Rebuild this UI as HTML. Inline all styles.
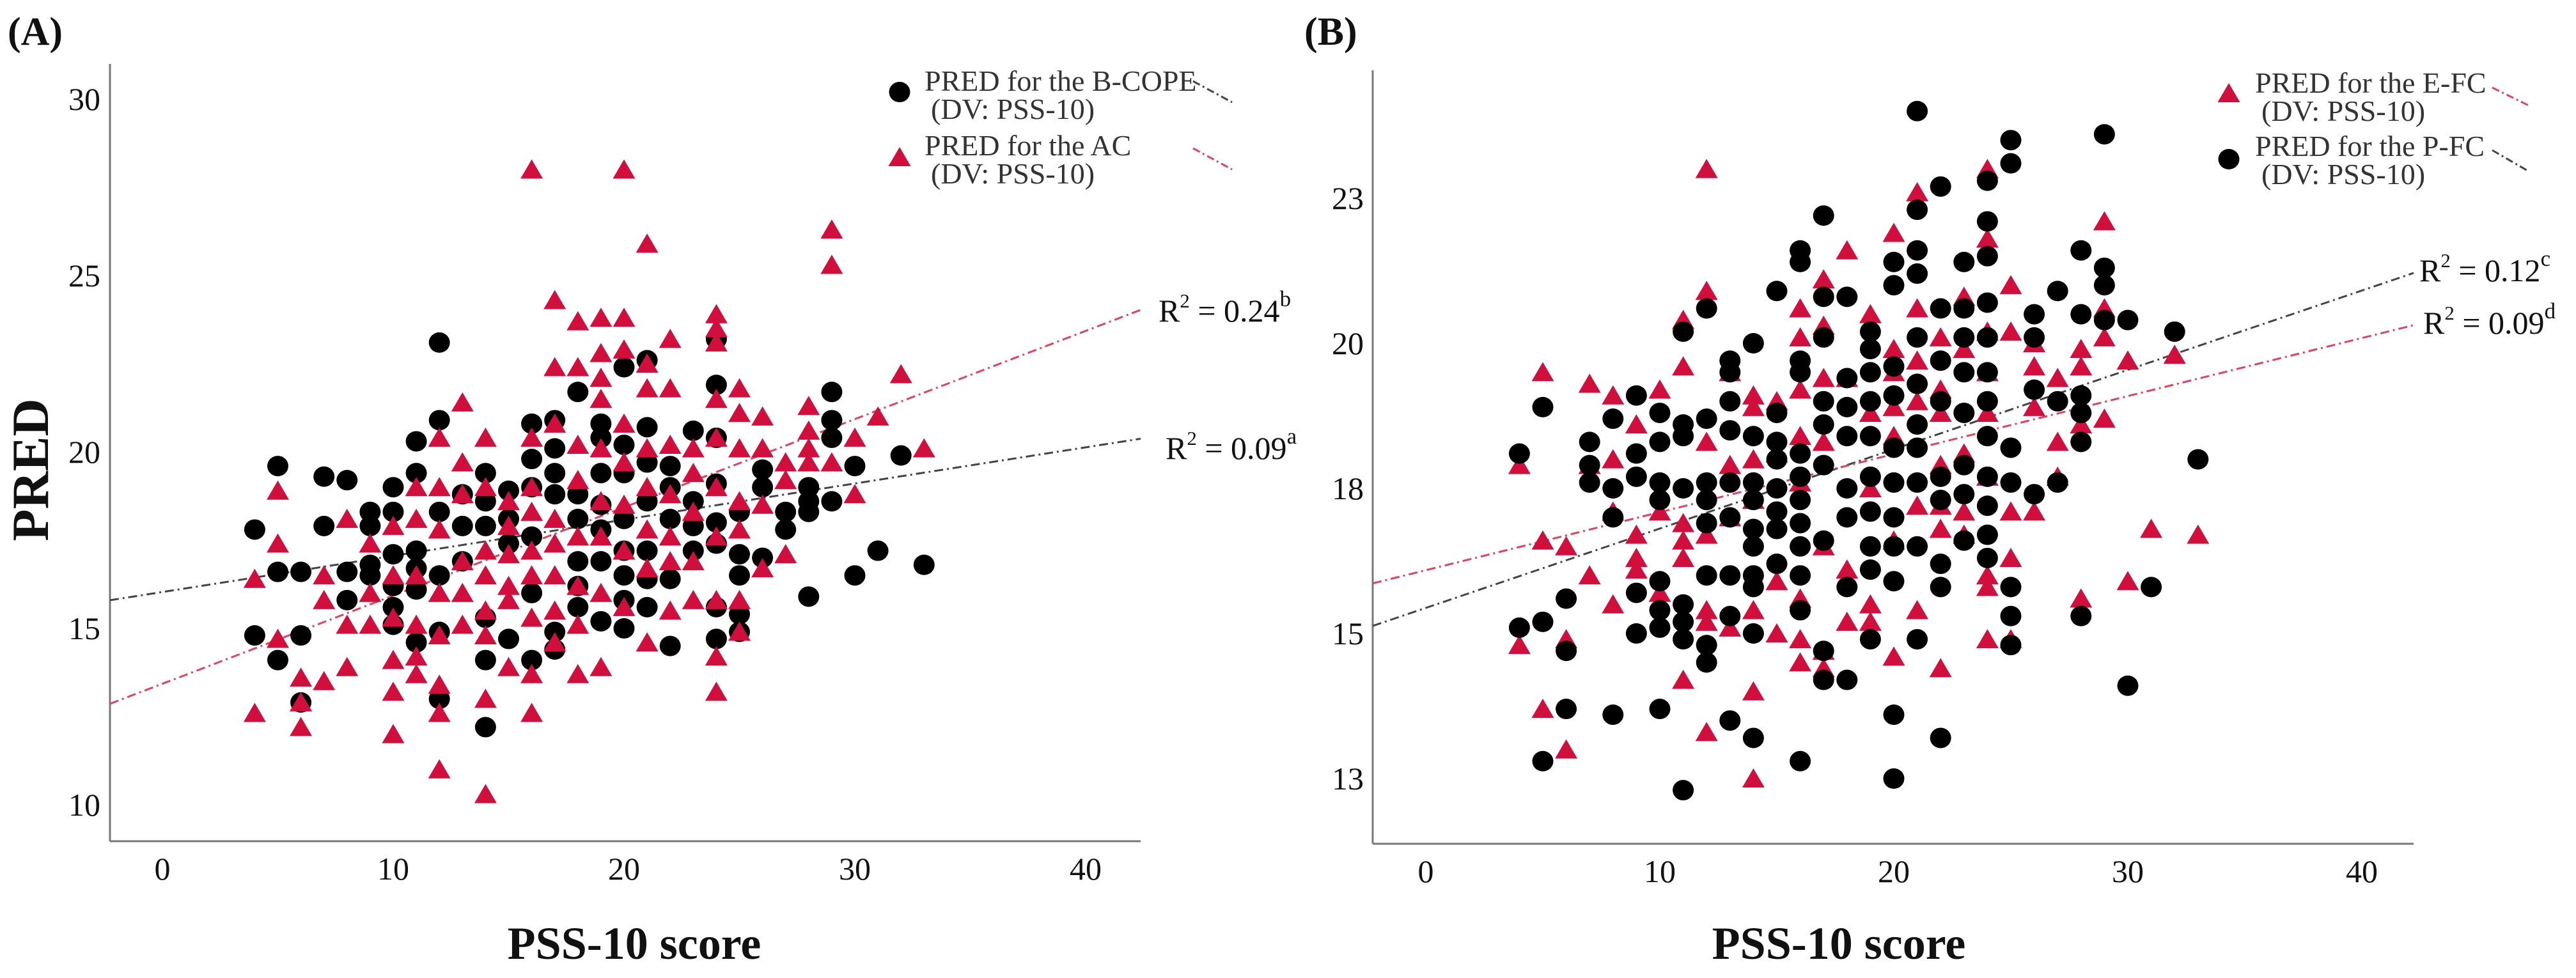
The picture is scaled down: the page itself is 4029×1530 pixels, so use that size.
<!DOCTYPE html>
<html><head><meta charset="utf-8">
<style>
html,body{margin:0;padding:0;background:#fff;}
svg{display:block;font-family:"Liberation Serif",serif;}
</style></head>
<body>
<svg id="chart" width="4029" height="1530" viewBox="0 0 4029 1530" xmlns="http://www.w3.org/2000/svg">
<g id="panelA"></g>
<g id="panelB"></g>
</svg>
<script>
// ---------- Panel A data ----------
const aXs = [4,5,6,7,8,9,10,11,12,13,14,15,16,17,18,19,20,21,22,23,24,25,26,27,28,29,30,31,32,33];
const aBlackYs = [
[17.8,14.8],[19.6,16.6,14.1],[16.6,14.8,12.9],[19.3,17.9],[19.2,16.6,15.8],[18.3,17.9,16.8,16.5],
[19.0,18.3,17.1,16.2,15.6,15.1],[20.3,19.4,17.2,16.7,16.1,14.6],[23.1,20.9,18.3,16.5,14.9,13.0],
[18.8,17.9,16.9],[19.4,18.6,17.9,15.3,14.1,12.2],[18.9,18.1,17.4,14.7],[20.8,19.8,19.0,17.6,16.0,14.1],
[20.9,20.1,19.4,18.8,14.9,14.4],[21.7,18.8,18.1,16.9,16.2,15.6],[20.8,20.4,19.4,18.5,17.8,16.9,15.2],
[22.4,20.2,19.4,18.1,17.2,16.5,15.8,15.0],[22.6,20.7,19.7,18.6,17.2,16.4,15.6],[19.6,19.0,18.1,16.4,14.5],
[20.6,18.6,17.9,17.2],[23.2,21.9,20.4,19.1,18.0,17.4,15.6,14.7],[18.3,17.1,16.5,15.4,14.9],[19.5,19.0,17.0],
[18.3,17.8],[19.0,18.6,18.3,15.9],[21.7,20.9,20.4,18.6],[19.6,16.5],[17.2],[19.9],[16.8]];
const aRedYs = [
[16.4,12.6],[18.9,17.4,14.7],[13.6,12.9,12.2],[16.5,15.8,13.5],[18.1,15.1,13.9],[17.4,16.0,15.1],
[17.9,16.5,15.3,14.1,13.2,12.0],[19.0,18.1,16.5,15.1,14.2,13.7],[20.4,19.0,17.8,16.0,14.8,13.4,12.6,11.0],
[21.4,19.7,18.8,16.9,16.0,15.1],[20.4,19.0,17.2,16.5,15.5,14.8,13.0,10.3],[18.6,17.9,17.1,16.2,15.8,13.9],
[28.0,20.4,19.0,18.3,17.2,16.5,15.3,13.7,12.6],[24.3,22.4,20.8,18.1,17.4,16.5,15.5,14.6],
[23.7,22.4,20.2,19.2,17.6,16.2,15.1,13.7],[23.8,22.8,22.1,21.5,20.1,18.6,17.6,16.0,13.9],
[28.0,23.8,22.9,20.8,19.7,18.5,17.2,15.6],[25.9,22.5,21.8,20.1,19.0,17.8,16.7,14.6],
[23.2,21.8,20.2,18.8,17.6,16.9,15.5],[20.1,19.4,18.3,16.9,15.8],
[23.9,23.5,23.1,21.5,20.4,19.0,17.6,15.8,14.2,13.2],[21.8,21.1,20.1,18.6,17.8,15.8,14.9],
[21.0,20.1,18.5,16.7],[19.7,19.2,17.1],[21.3,20.6,20.1,19.7],[26.3,25.3,19.7],[20.4,18.8],[21.0],[22.2],[20.1]];
const aXTicks = [0,10,20,30,40];
const aYTicks = [10,15,20,25,30];
const aYTickLabels = ["10","15","20","25","30"];
const aRedFit = [13.43,0.25];   // intercept, slope
const aBlackFit = [16.03,0.1025];

// ---------- Panel B data ----------
const bXs = aXs;
const bBlackYs = [
[18.1,15.1],[18.9,15.2,12.8],[15.6,14.7,13.7],[18.3,17.9,17.6],[18.7,17.5,17.0,13.6],[19.1,18.1,17.7,15.7,15.0],
[18.8,18.3,17.6,17.3,15.9,15.4,15.1,13.7],[20.2,18.6,18.4,17.5,15.5,15.2,14.9,12.3],
[20.6,18.7,17.6,17.3,16.9,16.0,14.8,14.5],[19.7,19.5,19.0,18.5,17.6,17.0,16.0,15.3,13.5],
[20.0,18.4,17.6,17.3,16.8,16.5,16.0,15.8,15.0,13.2],[20.9,18.8,18.3,18.0,17.5,17.1,16.8,16.2],
[21.6,21.4,19.7,19.5,18.1,17.7,17.3,16.9,16.5,16.0,15.4,12.8],[22.2,20.8,20.1,19.0,18.6,17.9,16.6,14.7,14.2],
[20.8,19.4,18.9,18.4,17.5,17.0,15.8,14.2],[20.2,19.9,19.5,19.0,18.4,17.7,17.1,16.5,16.1,14.9],
[21.4,21.0,19.6,19.1,18.2,17.6,17.0,16.5,15.9,13.6,12.5],[24.0,22.3,21.6,21.2,20.1,19.3,18.6,18.2,17.6,16.5,14.9],
[22.7,20.6,19.7,19.0,17.7,17.3,16.2,15.8,13.2],[21.4,20.6,20.1,19.5,18.8,17.9,17.4,16.6],
[22.8,22.1,21.5,20.7,20.1,19.5,19.0,18.4,17.7,17.2,16.7,16.3],[23.5,23.1,18.2,17.6,15.8,15.3,14.8],
[20.5,20.1,19.2,17.4],[20.9,19.0,17.6],[21.6,20.5,19.1,18.8,18.3,15.3],[23.6,21.3,21.0,20.4],[20.4,14.1],[15.8],[20.2],[18.0]];
const bRedYs = [
[17.9,14.8],[19.5,16.6,13.7],[16.5,14.9,13.0],[19.3,17.9,16.0],[19.1,18.0,17.1,15.5],[18.6,16.7,16.3,16.1],
[19.2,17.1,15.7],[20.4,19.6,16.9,16.6,16.3,14.2],[23.0,20.9,18.3,16.7,15.4,15.2,13.3],[19.5,17.9,17.0,15.1],
[19.1,18.9,18.0,17.3,15.4,14.0,12.5],[19.0,18.1,15.9,15.0],[20.6,20.1,19.2,18.4,17.6,15.6,14.9,14.5],
[21.1,20.3,19.4,18.3,16.5,14.7,14.4],[21.6,19.4,16.1,15.2],[20.5,18.8,17.5,15.5,15.2],
[21.9,19.9,19.5,18.9,18.4,16.6,14.6],[22.6,20.6,19.7,19.0,17.2,15.4],[20.1,19.2,18.8,17.9,17.2,16.8,14.4],
[20.8,19.9,18.1,17.1,16.7],[23.0,21.8,20.2,19.5,18.8,17.7,16.0,15.8,14.9],[21.0,20.2,17.1,16.3,14.9],
[20.0,19.6,18.9,17.1],[19.4,18.3,17.7],[19.9,19.6,18.6,15.6],[22.1,20.6,20.1,18.7],[19.7,15.9],[16.8],[19.8],[16.7]];
const bXTicks = [0,10,20,30,40];
const bYTicks = [12.5,15,17.5,20,22.5];
const bYTickLabels = ["13","15","18","20","23"];
const bRedFit = [16.09,0.100];
const bBlackFit = [15.44,0.1367];

const NS = "http://www.w3.org/2000/svg";
function mk(parent, tag, attrs, text){
  const e = document.createElementNS(NS, tag);
  for (const k in attrs) e.setAttribute(k, attrs[k]);
  if (text !== undefined) e.textContent = text;
  parent.appendChild(e);
  return e;
}
const RED = "#d20f3c";

function drawPanel(g, cfg){
  const xS = v => cfg.x0 + v * cfg.xpu;
  const yS = v => cfg.y0 - (v - cfg.yref) * cfg.ypu;
  const ax = mk(g,"line",{x1:cfg.axL,y1:cfg.axB,x2:cfg.axR,y2:cfg.axB,stroke:"#777","stroke-width":3});
  
  
  const ay = mk(g,"line",{x1:cfg.axL,y1:cfg.axT,x2:cfg.axL,y2:cfg.axB,stroke:"#777","stroke-width":3});
  
  
  cfg.xTicks.forEach(t=>{
    const e = mk(g,"text",{x:xS(t),y:cfg.axB+60,"text-anchor":"middle","font-size":50,fill:"#111"},String(t));
    
    
  });
  cfg.yTicks.forEach((t,i)=>{
    const e = mk(g,"text",{x:cfg.yLabX,y:yS(t)+17,"text-anchor":"end","font-size":50,fill:"#111"},cfg.yTickLabels[i]);
    
    
  });
  const xl = (cfg.axL - cfg.x0)/cfg.xpu, xr = (cfg.axR - cfg.x0)/cfg.xpu;
  cfg.fits.forEach(f=>{
    const l = mk(g,"line",{x1:cfg.axL,y1:yS(f.c[0]+f.c[1]*xl),x2:cfg.axR,y2:yS(f.c[0]+f.c[1]*xr),
      stroke:f.col,"stroke-width":3,"stroke-dasharray":"14 6 3 6"});
    
    
  });
  cfg.series.forEach(s=>{
    const sg = mk(g,"g",{});
    
    
    cfg.xs.forEach((xv,i)=>{
      s.ys[i].forEach(yv=>{
        const cx = xS(xv), cy = yS(yv);
        let m;
        if (s.shape==="circle") m = mk(sg,"ellipse",{cx:cx,cy:cy,rx:16.5,ry:16,fill:"#000"});
        else m = mk(sg,"polygon",{points:`${cx},${cy-16} ${cx-17.5},${cy+14} ${cx+17.5},${cy+14}`,fill:RED});
        
        
      });
    });
  });
}

drawPanel(document.getElementById('panelA'),{
  x0:254,xpu:36.1,y0:1259,yref:10,ypu:55.2,axL:172,axR:1784,axT:100,axB:1316,yLabX:157,
  xs:aXs,xTicks:aXTicks,yTicks:aYTicks,yTickLabels:aYTickLabels,
  fits:[{c:aBlackFit,col:"#444",name:"fit-line-b-cope"},{c:aRedFit,col:"#e8405a",name:"fit-line-ac"}],
  series:[{shape:"circle",ys:aBlackYs,name:"series-b-cope"},{shape:"tri",ys:aRedYs,name:"series-ac"}]
});
drawPanel(document.getElementById('panelB'),{
  x0:2230,xpu:36.6,y0:991,yref:15,ypu:90.8,axL:2147,axR:3775,axT:110,axB:1320,yLabX:2133,
  xs:bXs,xTicks:bXTicks,yTicks:bYTicks,yTickLabels:bYTickLabels,
  fits:[{c:bBlackFit,col:"#444",name:"fit-line-p-fc"},{c:bRedFit,col:"#e8405a",name:"fit-line-e-fc"}],
  series:[{shape:"tri",ys:bRedYs,name:"series-e-fc"},{shape:"circle",ys:bBlackYs,name:"series-p-fc"}]
});
</script>
<script>
(function(){
const svg = document.getElementById('chart');
const SNS = "http://www.w3.org/2000/svg";
function t(x,y,size,str,name,opts){
  const e = document.createElementNS(SNS,"text");
  e.setAttribute("x",x);e.setAttribute("y",y);e.setAttribute("font-size",size);
  if(opts&&opts.bold) e.setAttribute("font-weight","bold");
  if(opts&&opts.anchor) e.setAttribute("text-anchor",opts.anchor);
  if(opts&&opts.tr) e.setAttribute("transform",opts.tr);
  e.setAttribute("fill",(opts&&opts.fill)||"#111");
  e.textContent = str;
  
  
  svg.appendChild(e); return e;
}
function line(x1,y1,x2,y2,col,name){
  const e = document.createElementNS(SNS,"line");
  e.setAttribute("x1",x1);e.setAttribute("y1",y1);e.setAttribute("x2",x2);e.setAttribute("y2",y2);
  e.setAttribute("stroke",col);e.setAttribute("stroke-width",3);e.setAttribute("stroke-dasharray","12 5 3 5");
  
  
  svg.appendChild(e);
}
function marker(cx,cy,shape,name){
  let e;
  if(shape==="circle"){ e=document.createElementNS(SNS,"ellipse");
    e.setAttribute("cx",cx);e.setAttribute("cy",cy);e.setAttribute("rx",16.5);e.setAttribute("ry",16);e.setAttribute("fill","#000");}
  else { e=document.createElementNS(SNS,"polygon");
    e.setAttribute("points",`${cx},${cy-16} ${cx-17.5},${cy+14} ${cx+17.5},${cy+14}`);e.setAttribute("fill","#d20f3c");}
  
  
  svg.appendChild(e);
}
function r2(x,y,val,letter,name){
  const e=document.createElementNS(SNS,"text");
  e.setAttribute("x",x);e.setAttribute("y",y);e.setAttribute("font-size",50);e.setAttribute("fill","#111");
  const a=document.createElementNS(SNS,"tspan");a.textContent="R";
  const b=document.createElementNS(SNS,"tspan");b.setAttribute("dy","-22");b.setAttribute("font-size",31);b.textContent="2";
  const c=document.createElementNS(SNS,"tspan");c.setAttribute("dy","22");c.textContent=" = "+val;
  const d=document.createElementNS(SNS,"tspan");d.setAttribute("dy","-24");d.setAttribute("font-size",35);d.textContent=letter;
  e.appendChild(a);e.appendChild(b);e.appendChild(c);e.appendChild(d);
  
  
  svg.appendChild(e);
}
t(12,70,62,"(A)","panel-label-a",{bold:true});
t(2040,70,62,"(B)","panel-label-b",{bold:true});
t(992,1500,72,"PSS-10 score","x-axis-title-a",{bold:true,anchor:"middle"});
t(2876,1500,72,"PSS-10 score","x-axis-title-b",{bold:true,anchor:"middle"});
t(0,0,82,"PRED","y-axis-title-a",{bold:true,anchor:"middle",tr:"translate(75,735) rotate(-90)"});
// legend A
marker(1407,144,"circle","legend-marker-b-cope");
t(1446,142,46,"PRED for the B-COPE","legend-label-b-cope",{fill:"#333"});
t(1456,186,46,"(DV: PSS-10)","legend-sublabel-b-cope",{fill:"#333"});
line(1866,127,1927,160,"#444","legend-line-b-cope");
marker(1407,246,"tri","legend-marker-ac");
t(1446,243,46,"PRED for the AC","legend-label-ac",{fill:"#333"});
t(1456,287,46,"(DV: PSS-10)","legend-sublabel-ac",{fill:"#333"});
line(1866,232,1927,265,"#e8405a","legend-line-ac");
// legend B
marker(3486,146,"tri","legend-marker-e-fc");
t(3527,145,46,"PRED for the E-FC","legend-label-e-fc",{fill:"#333"});
t(3537,189,46,"(DV: PSS-10)","legend-sublabel-e-fc",{fill:"#333"});
line(3898,137,3955,165,"#e8405a","legend-line-e-fc");
marker(3486,249,"circle","legend-marker-p-fc");
t(3527,244,46,"PRED for the P-FC","legend-label-p-fc",{fill:"#333"});
t(3537,288,46,"(DV: PSS-10)","legend-sublabel-p-fc",{fill:"#333"});
line(3898,235,3955,268,"#444","legend-line-p-fc");
r2(1812,503,"0.24","b","r2-label-ac");
r2(1823,718,"0.09","a","r2-label-b-cope");
r2(3784,440,"0.12","c","r2-label-p-fc");
r2(3790,522,"0.09","d","r2-label-e-fc");
})();
</script>
</body></html>
